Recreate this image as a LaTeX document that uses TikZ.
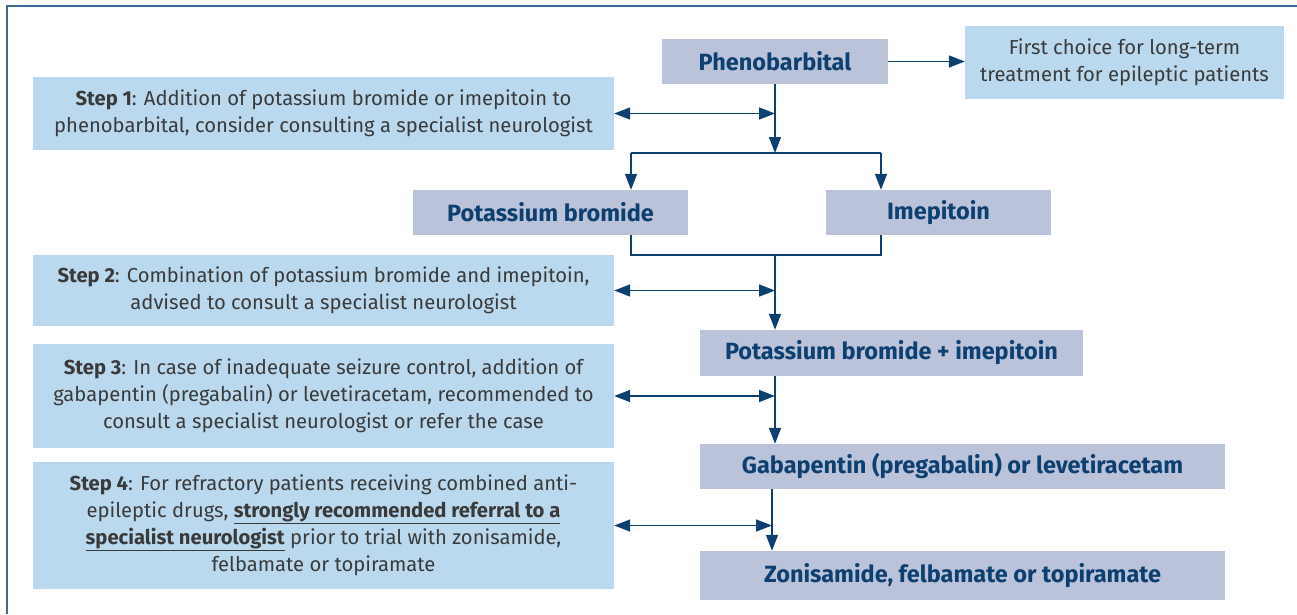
\documentclass[tikz,border=0pt]{standalone}
\usepackage{fontspec}
\setmainfont{Fira Sans}
\usetikzlibrary{arrows.meta,positioning,calc}
\definecolor{stepblue}{HTML}{BAD9EF}
\definecolor{drugbox}{HTML}{BAC3D9}
\definecolor{navy}{HTML}{0D3F70}
\definecolor{steptext}{HTML}{3A3A3A}
\definecolor{framec}{HTML}{3F6B91}

\begin{document}
\begin{tikzpicture}[x=1pt,y=-1pt,
  stepbox/.style={fill=stepblue,text=steptext,align=center,inner sep=0pt,
    minimum width=581pt,font=\fontsize{20.2}{27}\selectfont},
  drug/.style={fill=drugbox,text=navy,inner sep=0pt,font=\fontsize{23.5}{26}\selectfont\bfseries},
  link/.style={navy,line width=1.5pt},
  arr/.style={link,-{Triangle[length=16pt,width=12pt]}},
  dbl/.style={link,{Triangle[length=16pt,width=12pt]}-{Triangle[length=16pt,width=12pt]}}]
  \useasboundingbox (0,0) rectangle (1297,614);
  % outer frame, open at right and bottom
  \draw[framec,line width=1.5pt] (7,614) |- (1297,6);

  % Right column: drugs
  \node[drug,minimum width=226pt,minimum height=45pt] (pheno) at (775,61.5) {Phenobarbital};
  \node[stepbox,minimum width=319pt,minimum height=73pt] (first) at (1124.5,62.5)
    {First choice for long-term\\treatment for epileptic patients};
  \node[drug,minimum width=275pt,minimum height=45pt] (kbr) at (550.5,212.5) {Potassium bromide};
  \node[drug,minimum width=225pt,minimum height=45pt] (imp) at (938.5,212.5) {Imepitoin};
  \node[drug,minimum width=383pt,minimum height=46pt] (combo) at (891.5,353) {Potassium bromide + imepitoin};
  \node[drug,minimum width=525pt,minimum height=45pt] (gaba) at (962.5,466.5) {Gabapentin (pregabalin) or levetiracetam};
  \node[drug,minimum width=525pt,minimum height=49pt] (zoni) at (962.5,575.5) {Zonisamide, felbamate or topiramate};

  % Left column: steps
  \node[stepbox,minimum height=73pt] (step1) at (323.5,113.5)
    {\textbf{Step 1}: Addition of potassium bromide or imepitoin to\\
     phenobarbital, consider consulting a specialist neurologist};
  \node[stepbox,minimum height=71pt] (step2) at (323.5,290.5)
    {\textbf{Step 2}: Combination of potassium bromide and imepitoin,\\
     advised to consult a specialist neurologist};
  \node[stepbox,minimum height=104pt] (step3) at (323.5,396)
    {\textbf{Step 3}: In case of inadequate seizure control, addition of\\
     gabapentin (pregabalin) or levetiracetam, recommended to\\
     consult a specialist neurologist or refer the case};
  \node[stepbox,minimum height=127pt] (step4) at (323.5,525.5)
    {\textbf{Step 4}: For refractory patients receiving combined anti-\\
     epileptic drugs, \underline{\textbf{strongly recommended referral to a}}\\
     \underline{\textbf{specialist neurologist}} prior to trial with zonisamide,\\
     felbamate or topiramate};

  % branch points
  \coordinate (split) at (775,153);
  \coordinate (lbranch) at (631,153);
  \coordinate (rbranch) at (881,153);
  \coordinate (merge) at (775,255);

  \draw[arr] (pheno.east) -- (first.west |- pheno.east);
  \draw[arr] (pheno.south) -- (split);
  \draw[link] (lbranch) -- (rbranch);
  \draw[arr] (lbranch) -- (lbranch |- kbr.north);
  \draw[arr] (rbranch) -- (rbranch |- imp.north);
  \draw[link] (lbranch |- kbr.south) |- (merge) -| (rbranch |- imp.south);
  \draw[arr] (merge) -- (merge |- combo.north);
  \draw[arr] (merge |- combo.south) -- (merge |- gaba.north);
  \draw[arr] ([xshift=-3pt]merge |- gaba.south) -- ([xshift=-3pt]merge |- zoni.north);

  % steps to trunk
  \draw[dbl] (step1.east) -- (step1.east -| split);
  \draw[dbl] (step2.east) -- (step2.east -| merge);
  \draw[dbl] (step3.east) -- (step3.east -| merge);
  \draw[dbl] (step4.east) -- ([xshift=-3pt]step4.east -| merge);
\end{tikzpicture}
\end{document}
